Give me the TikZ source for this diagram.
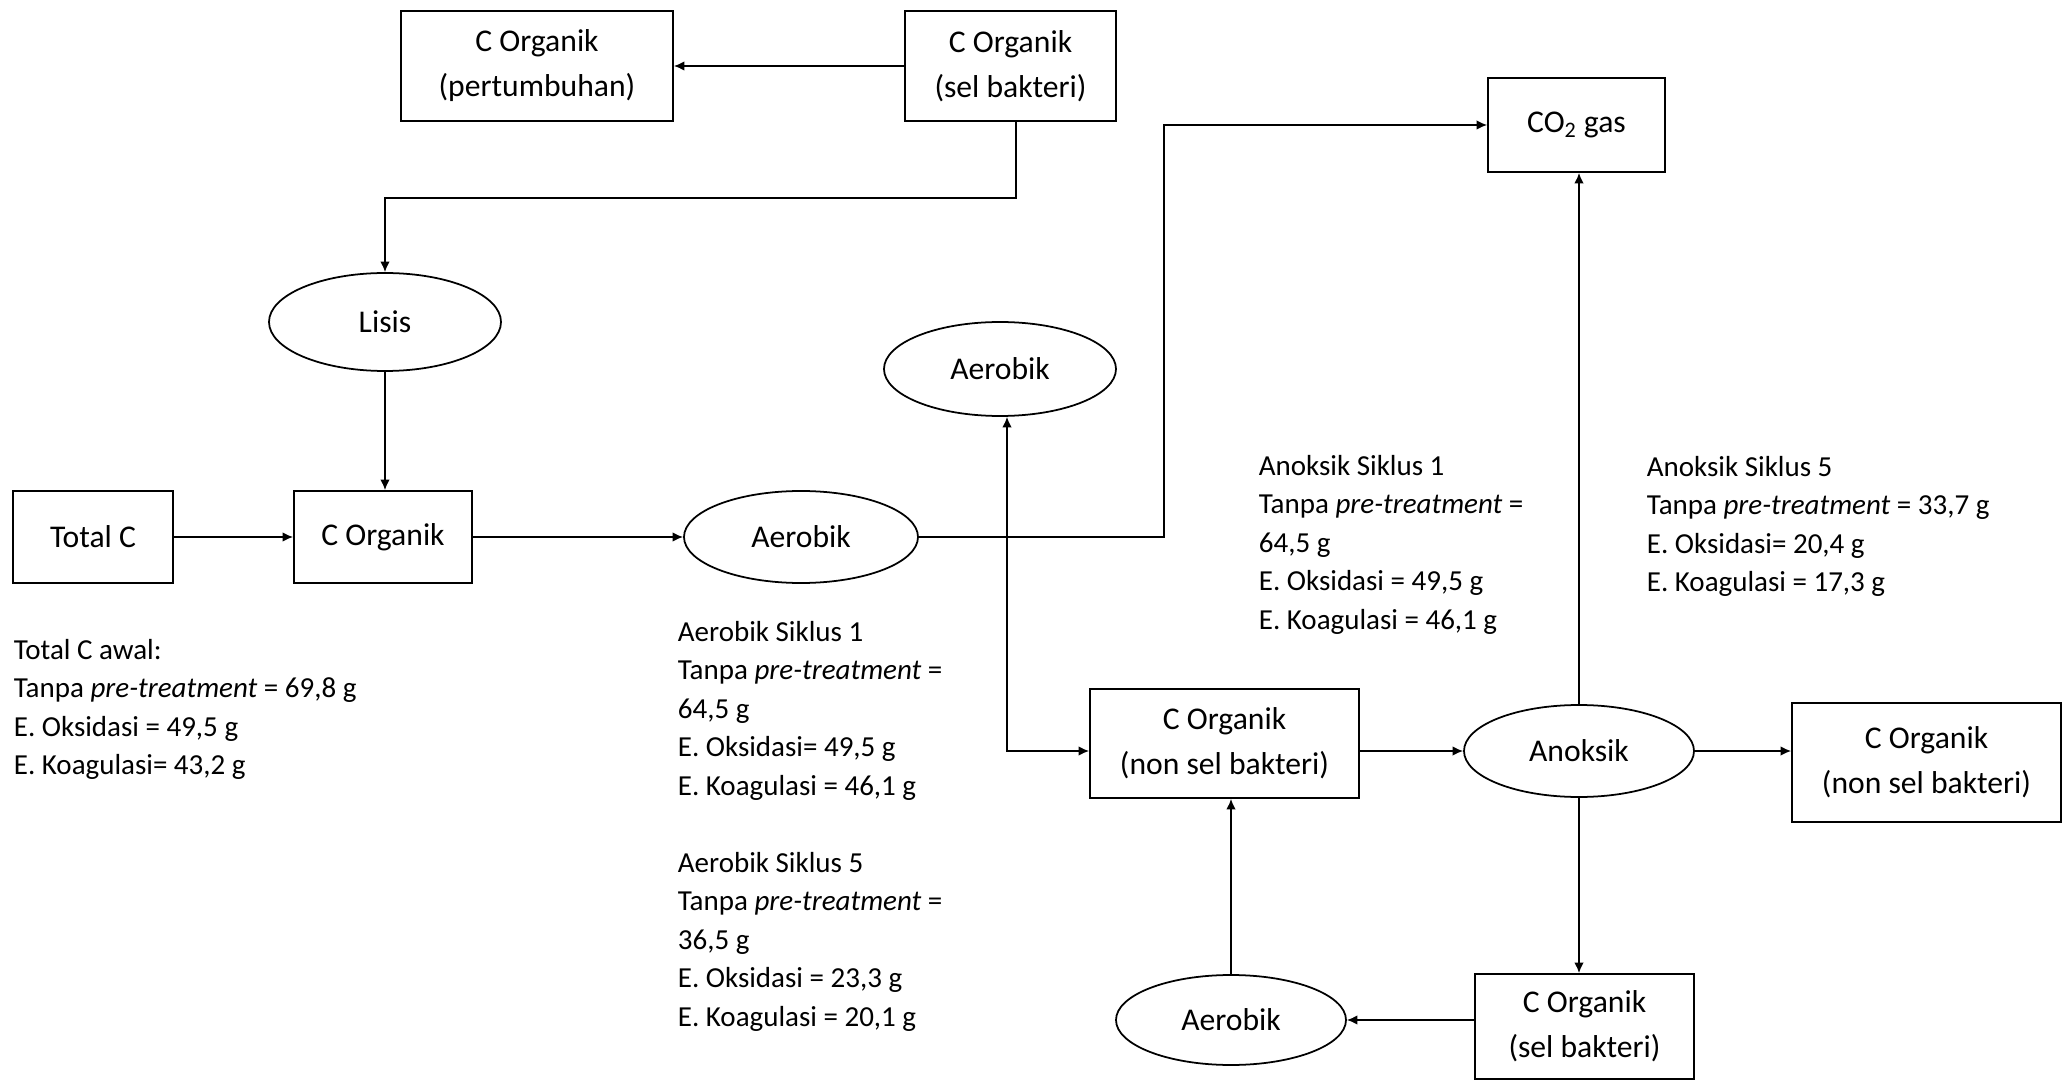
\documentclass[tikz,border=0pt]{standalone}
\usepackage{fontspec}
\setmainfont{Carlito}
\usetikzlibrary{shapes.geometric,arrows.meta}

\tikzset{
  kotak/.style={draw, rectangle, align=center, inner sep=0pt, font=\fontsize{18}{25.6}\selectfont},
  elips/.style={draw, ellipse, inner sep=0pt, font=\fontsize{18}{25.6}\selectfont},
  catatan/.style={anchor=base west, align=left, inner sep=0pt, font=\fontsize{16.5}{21.9}\selectfont}
}

\begin{document}
\begin{tikzpicture}[>={Latex[length=6pt,width=5.5pt]}, line width=1pt]
    \useasboundingbox (0,0) rectangle (41.38,-21.6);

    \node[kotak, minimum width=5.44cm, minimum height=2.2cm] (pert) at (10.74,-1.32) {C Organik\\(pertumbuhan)};
    \node[kotak, minimum width=4.22cm, minimum height=2.2cm] (selb1) at (20.21,-1.32) {C Organik\\(sel bakteri)};
    \node[kotak, minimum width=3.54cm, minimum height=1.88cm] (co2) at (31.53,-2.5) {CO\textsubscript{2} gas};
    \node[elips, minimum width=4.64cm, minimum height=1.96cm] (lisis) at (7.7,-6.44) {Lisis};
    \node[elips, minimum width=4.64cm, minimum height=1.88cm] (aer2) at (20.0,-7.38) {Aerobik};
    \node[kotak, minimum width=3.2cm, minimum height=1.84cm] (totc) at (1.86,-10.74) {Total C};
    \node[kotak, minimum width=3.56cm, minimum height=1.84cm] (corg) at (7.66,-10.74) {C Organik};
    \node[elips, minimum width=4.68cm, minimum height=1.84cm] (aer1) at (16.02,-10.74) {Aerobik};
    \node[kotak, minimum width=5.38cm, minimum height=2.18cm] (nsb1) at (24.49,-14.87) {C Organik\\(non sel bakteri)};
    \node[elips, minimum width=4.6cm, minimum height=1.84cm] (anok) at (31.58,-15.02) {Anoksik};
    \node[kotak, minimum width=5.38cm, minimum height=2.38cm] (nsb2) at (38.53,-15.25) {C Organik\\(non sel bakteri)};
    \node[elips, minimum width=4.6cm, minimum height=1.8cm] (aer3) at (24.62,-20.4) {Aerobik};
    \node[kotak, minimum width=4.38cm, minimum height=2.1cm] (selb2) at (31.69,-20.53) {C Organik\\(sel bakteri)};

    \coordinate (turun) at (20.32,-3.96);
    \coordinate (belok) at (23.28,-10.74);
    \coordinate (siku) at (20.14,-15.02);

    \draw[->] (selb1) -- (pert);
    \draw[->] (turun |- selb1.south) -- (turun) -| (lisis.north);
    \draw[->] (lisis.south) -- (lisis.south |- corg.north);
    \draw[->] (totc) -- (corg);
    \draw[->] (corg) -- (aer1);
    \draw[->] (aer1.east) -- (belok) |- (co2.west);
    \draw[<->] (aer2.south -| siku) |- (nsb1.west |- siku);
    \draw[->] (nsb1.east |- anok) -- (anok.west);
    \draw[->] (anok.east) -- (anok.east -| nsb2.west);
    \draw[->] (anok.north) -- (anok.north |- co2.south);
    \draw[->] (anok.south) -- (anok.south |- selb2.north);
    \draw[->] (selb2.west |- aer3) -- (aer3.east);
    \draw[->] (aer3.north) -- (aer3.north |- nsb1.south);

    \node[catatan] (ket1) at (0.26,-15.49) {Total C awal:\\Tanpa \textit{pre-treatment} = 69,8 g\\E. Oksidasi = 49,5 g\\E. Koagulasi= 43,2 g};
    \node[catatan] (ket2) at (13.54,-20.52) {Aerobik Siklus 1\\Tanpa \textit{pre-treatment} =\\64,5 g\\E. Oksidasi= 49,5 g\\E. Koagulasi = 46,1 g\\[21.9pt]Aerobik Siklus 5\\Tanpa \textit{pre-treatment} =\\36,5 g\\E. Oksidasi = 23,3 g\\E. Koagulasi = 20,1 g};
    \node[catatan] (ket3) at (25.16,-12.58) {Anoksik Siklus 1\\Tanpa \textit{pre-treatment} =\\64,5 g\\E. Oksidasi = 49,5 g\\E. Koagulasi = 46,1 g};
    \node[catatan] (ket4) at (32.92,-11.83) {Anoksik Siklus 5\\Tanpa \textit{pre-treatment} = 33,7 g\\E. Oksidasi= 20,4 g\\E. Koagulasi = 17,3 g};
\end{tikzpicture}
\end{document}
